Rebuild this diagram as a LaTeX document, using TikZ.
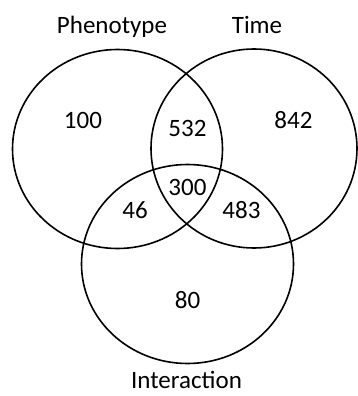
\documentclass[tikz,border=0pt]{standalone}
\usepackage{fontspec}
\setmainfont{Carlito}
\usetikzlibrary{shapes.geometric}
\begin{document}
\begin{tikzpicture}[x=1pt,y=-1pt,
  venn/.style={draw, ellipse, line width=1.6pt, minimum height=199pt, inner sep=0pt},
  lbl/.style={font=\fontsize{25}{30}\selectfont, anchor=base, inner sep=0pt}]
\useasboundingbox (0,0) rectangle (358,396);
\node[venn, minimum width=210pt] (phen) at (117.5,149) {};
\node[venn, minimum width=206pt] (time) at (254,148.5) {};
\node[venn, minimum width=212pt] (inter) at (187.5,264) {};
\node[lbl] (tphen) at (112,34) {Phenotype};
\node[lbl] (ttime) at (257,34) {Time};
\node[lbl] (tinter) at (186.5,388.5) {Interaction};
\node[lbl] (n100) at (83,128) {100};
\node[lbl] (n532) at (187.5,136) {532};
\node[lbl] (n842) at (293.5,128) {842};
\node[lbl] (n300) at (187.5,195.5) {300};
\node[lbl] (n46) at (135,218.5) {46};
\node[lbl] (n483) at (241.5,218.5) {483};
\node[lbl] (n80) at (187.5,308.5) {80};
\end{tikzpicture}
\end{document}
